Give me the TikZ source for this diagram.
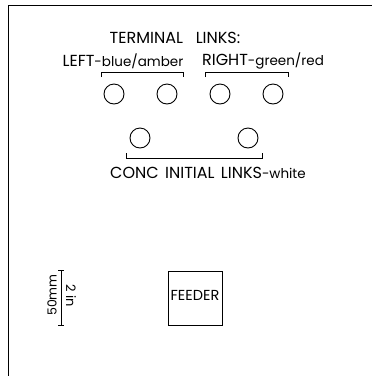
\documentclass[tikz,border=0pt]{standalone}
\usepackage{fontspec}
\setmainfont{Poppins}
\usetikzlibrary{positioning}
\newcommand{\capsz}{\fontsize{16}{18}\selectfont}
\newcommand{\lowsz}{\fontsize{13.5}{15}\selectfont}
\tikzset{
  link/.style={draw, circle, minimum size=20pt, inner sep=0pt, line width=0.9pt},
  txt/.style={inner sep=0pt, font=\capsz},
  brk/.style={line width=0.9pt},
}

\begin{document}
\begin{tikzpicture}[x=1pt, y=-1pt, line width=0.9pt]
  \useasboundingbox (0,0) rectangle (372,376);
  % panel edge
  \draw (8,376) -- (8,5) -- (372,5);

  % terminal links
  \node[txt] (term) at (175,38) {TERMINAL\hspace{0.8em}LINKS:};
  \node[txt] (left) at (123,61) {LEFT{\lowsz -blue/amber}};
  \node[txt] (right) at (263,61) {RIGHT{\lowsz -green/red}};
  \draw[brk] (101,77) -- (101,72) -- (183,72) -- (183,77);
  \draw[brk] (205,77) -- (205,72) -- (288,72) -- (288,77);
  \node[link] (l1) at (114,94) {};
  \node[link] (l2) at (167,94) {};
  \node[link] (r1) at (220,94) {};
  \node[link] (r2) at (273,94) {};

  % concentric initial links
  \node[link] (c1) at (140,138) {};
  \node[link] (c2) at (248,138) {};
  \draw[brk] (126,153) -- (126,158) -- (262,158) -- (262,153);
  \node[txt] (conc) at (208,173) {CONC\hspace{0.4em}INITIAL\hspace{0.4em}LINKS{\lowsz -white}};

  % scale
  \draw (61,270) -- (61,325);
  \draw (58,270) -- (64,270);
  \draw (58,325) -- (64,325);
  \node[txt, rotate=90, font=\fontsize{12.5}{14}\selectfont] (mm) at (52,295) {50mm};
  \node[txt, rotate=-90, font=\fontsize{13}{15}\selectfont] (in) at (71,296) {2 in};

  % feeder
  \node[draw, minimum size=54pt, inner sep=0pt] (feed) at (195,298) {};
  \node[txt, font=\fontsize{14.5}{16}\selectfont] (feedlbl) at (195,295) {FEEDER};
\end{tikzpicture}
\end{document}
